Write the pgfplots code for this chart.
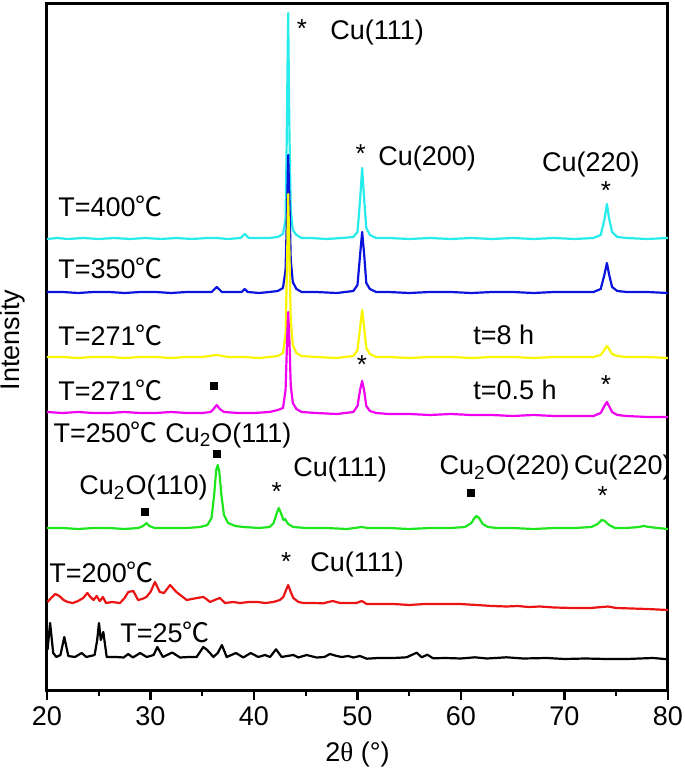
\documentclass[border=0pt]{standalone}
\usepackage{pgfplots}
\pgfplotsset{compat=1.18}
\usepackage{fontspec}
\setmainfont{Liberation Sans}
\newfontfamily\cjk{Noto Sans CJK SC}
\newfontfamily\serif{Liberation Serif}
\newcommand{\dc}{{\cjk ℃}}

\definecolor{ccyan}{RGB}{40,235,235}
\definecolor{cblue}{RGB}{10,20,220}
\definecolor{cyellow}{RGB}{250,245,0}
\definecolor{cmag}{RGB}{240,0,240}
\definecolor{cgreen}{RGB}{30,230,30}
\definecolor{cred}{RGB}{235,20,20}

\begin{document}
\begin{tikzpicture}[
  lab/.style={font=\fontsize{13.5}{15}\selectfont, inner sep=0pt},
  st/.style={font=\fontsize{13}{15}\selectfont, inner sep=0pt, anchor=center},
  sq/.style={fill=black, inner sep=0pt, minimum size=3.8pt},
]
\begin{axis}[
    scale only axis,
    width=310.5pt, height=343pt,
    xmin=20, xmax=80, ymin=0, ymax=686,
    xtick={20,30,...,80},
    minor xtick={25,35,...,75},
    ytick=\empty,
    xtick pos=bottom,
    tick align=outside,
    major tick length=5pt,
    minor tick length=3pt,
    every tick/.style={black, line width=1.2pt},
    axis line style={line width=1.5pt},
    /pgf/number format/assume math mode=true,
    ticklabel style={font=\fontsize{13.5}{15}\selectfont},
    xlabel={2{\serif θ} (°)},
    ylabel={Intensity},
    label style={font=\fontsize{13.5}{15}\selectfont},
    xlabel style={at={(axis description cs:0.5,0)}, anchor=center, yshift=-32.5pt},
    ylabel style={at={(axis description cs:0,0.51)}, anchor=center, yshift=17pt},
    every axis plot/.append style={line width=1.1pt, line join=round},
  ]
% T=400 C
\addplot[ccyan] coordinates {(20,451)(21,452)(22,451)(23.5,452)(25,451)(26.5,452)(28,451)(29.5,452)(31,451)(32.5,452)(34,451)(35.5,452)(36.4,452)(37.5,451)(38.7,452)(39.1,456)(39.5,452)(40.5,452)(41.5,452)(42.3,453)(42.8,456)(43.05,470)(43.15,540)(43.3,677)(43.42,560)(43.55,480)(43.75,460)(44.1,455)(44.6,452)(45.5,452)(47,451)(48.5,452)(49.6,453)(50.0,458)(50.25,490)(50.45,522)(50.65,490)(50.85,462)(51.2,455)(51.8,452)(53,452)(55,451)(57,452)(59,451)(61,452)(63,451)(65,452)(67,451)(69,452)(71,451)(72.8,452)(73.5,455)(73.85,470)(74.1,486)(74.3,472)(74.6,458)(75.1,453)(76,452)(78,451)(80,452)};
% T=350 C
\addplot[cblue] coordinates {(20,398)(21.5,398)(23,397)(24.5,398)(26,398)(27.5,397)(29,398)(30.5,398)(32,397)(33.5,398)(35,398)(35.9,398)(36.4,403)(36.9,398)(38,398)(38.8,398)(39.1,401)(39.4,398)(40.5,397)(41.5,398)(42.3,399)(42.8,402)(43.05,420)(43.2,480)(43.3,535)(43.42,490)(43.55,430)(43.75,408)(44.1,401)(44.6,398)(46,398)(48,397)(49.6,399)(50.0,405)(50.25,435)(50.45,458)(50.65,435)(50.85,407)(51.2,401)(51.8,398)(53,398)(55,397)(57,398)(59,398)(61,397)(63,398)(65,398)(67,397)(69,398)(71,398)(72.8,398)(73.5,401)(73.85,415)(74.1,427)(74.3,416)(74.6,403)(75.1,399)(76,398)(78,398)(80,397)};
% T=271 C, t=8 h
\addplot[cyellow] coordinates {(20,333)(21.5,333)(23,332)(24.5,333)(26,333)(27.5,332)(29,333)(30.5,333)(32,332)(33.5,333)(35,333)(36.4,335)(37.5,333)(39,333)(40.5,332)(41.5,333)(42.3,334)(42.8,337)(43.05,355)(43.2,430)(43.3,496)(43.42,440)(43.55,370)(43.75,345)(44.1,337)(44.6,334)(46,333)(48,332)(49.6,334)(50.0,340)(50.25,362)(50.45,380)(50.65,362)(50.85,342)(51.2,336)(51.8,333)(53,333)(55,332)(57,333)(59,333)(61,332)(63,333)(65,333)(67,332)(69,333)(71,333)(72.8,333)(73.5,335)(73.85,340)(74.1,344)(74.3,341)(74.6,336)(75.1,334)(76,333)(78,333)(80,332)};
% T=271 C, t=0.5 h
\addplot[cmag] coordinates {(20,278)(21.5,277)(23,278)(24.5,277)(26,277)(27.5,278)(29,277)(30.5,277)(32,278)(33.5,277)(35,277)(35.8,278)(36.1,281)(36.4,285)(36.7,281)(37.1,278)(38.5,277)(40,277)(41.5,278)(42.3,280)(42.8,282)(43.05,300)(43.2,350)(43.3,378)(43.42,350)(43.55,305)(43.75,287)(44.1,281)(44.6,278)(46,277)(48,276)(49.6,278)(50.0,284)(50.25,300)(50.45,309)(50.65,299)(50.85,284)(51.2,279)(51.8,277)(53,276)(55,276)(57,275)(59,276)(61,275)(63,275)(65,274)(67,275)(69,274)(71,274)(72.8,274)(73.5,277)(73.85,284)(74.1,288)(74.3,284)(74.6,278)(75.1,275)(76,274)(78,273)(80,273)};
% T=250 C
\addplot[cgreen] coordinates {(20,162)(21.5,162)(23,161)(24.5,162)(26,162)(27.5,161)(28.8,162)(29.3,164)(29.6,167)(29.9,164)(30.4,162)(32,162)(33.5,162)(34.8,163)(35.5,165)(35.9,172)(36.15,195)(36.35,220)(36.5,225)(36.65,218)(36.85,195)(37.1,175)(37.5,167)(38.2,164)(39,163)(40.5,162)(41.5,163)(41.9,167)(42.2,177)(42.4,182)(42.6,177)(42.85,170)(43.0,171)(43.3,166)(43.8,163)(45,162)(47,162)(49,161)(50.4,163)(51,162)(53,162)(55,161)(57,162)(59,162)(60.4,163)(61.0,167)(61.3,172)(61.5,174)(61.75,172)(62.1,166)(62.6,163)(63.5,162)(65,162)(67,161)(69,162)(71,162)(72.6,163)(73.2,166)(73.6,170)(73.9,169)(74.3,165)(74.9,162)(76,162)(77.2,163)(77.6,164)(78.2,163)(79,162)(80,161)};
% T=200 C
\addplot[cred] coordinates {(20.05,88)(20.4,92)(20.8,96)(21.2,94)(21.6,90)(22.0,88)(22.5,87)(23.0,89)(23.5,92)(23.9,97)(24.2,93)(24.5,90)(24.8,94)(25.1,89)(25.4,93)(25.7,87)(26.3,88)(27.05,87)(27.5,92)(27.85,98)(28.34,99)(28.8,90)(29.2,91)(29.6,93)(30.0,98)(30.43,108)(30.9,98)(31.3,97)(31.9,105)(32.5,98)(33.0,94)(33.5,90)(34.0,91)(34.5,92)(35.1,93)(35.4,91)(35.75,88)(36.2,90)(36.7,92)(37.2,87)(38.0,88)(38.65,87)(39.5,88)(40.3,88)(41.1,87)(41.87,88)(42.5,90)(42.83,93)(43.1,100)(43.3,105)(43.55,98)(43.8,92)(44.3,88)(44.77,87)(45.7,87)(46.7,86.7)(47.2,88)(47.6,89)(48.3,87)(48.95,87)(49.9,87)(50.4,89)(50.9,86)(52,86)(53.5,86)(55,85)(56.5,86)(58,86)(59.9,86)(61.5,85)(63,84)(64.4,83.5)(65.5,84)(66.5,83)(67.6,83.5)(69,82.5)(70.8,82)(72.5,82)(74.2,83.5)(75,82)(76.5,81.5)(78,81)(80,80)};
% T=25 C
\addplot[black] coordinates {(20.05,40)(20.3,67)(20.6,37)(20.9,33)(21.3,35)(21.67,53)(22.06,34)(22.7,33)(23.35,37)(23.8,33)(24.6,35)(24.85,50)(25.02,67)(25.2,50)(25.44,58)(25.77,33)(26.7,33)(27.4,32.5)(27.85,36)(28.3,32.5)(29,37)(29.63,33)(30.3,35)(30.66,43)(31.2,33)(32.1,37.5)(32.85,32.5)(33.7,33)(34.46,33)(35.1,43)(35.4,40.7)(35.75,37)(36.07,33)(36.5,37)(36.9,45)(37.36,33)(38.26,37)(38.97,32.5)(39.68,37)(40.42,33)(41.06,35)(41.55,33)(42.13,40.7)(42.67,33)(43.2,34)(43.8,35)(44.28,32.5)(45.09,35)(46.06,32.5)(46.8,33)(47.34,36)(48.0,34)(48.47,33)(49.1,34)(49.6,32.5)(50.24,34)(50.9,31.3)(52,32)(53.5,32)(54.75,32.7)(55.72,37.3)(56.2,32.7)(56.75,35.3)(57.3,31.7)(58.5,32)(60,31.5)(61.35,32.7)(62.5,31.5)(64.4,32.7)(66,31.5)(68.3,32)(70,31)(72,31.5)(74.07,31)(76,31)(78.55,32)(80,30.7)};

% annotations
\node[st] at (axis cs:44.64,661) {*};
\node[lab, anchor=west] at (axis cs:47.34,657) {Cu(111)};
\node[st] at (axis cs:50.3,536) {*};
\node[lab, anchor=west] at (axis cs:51.98,531) {Cu(200)};
\node[lab, anchor=center] at (axis cs:72.55,525) {Cu(220)};
\node[st] at (axis cs:74.0,499) {*};
\node[lab, anchor=west] at (axis cs:21.06,484) {T=400\dc};
\node[lab, anchor=west] at (axis cs:21.06,422) {T=350\dc};
\node[lab, anchor=west] at (axis cs:21.06,355) {T=271\dc};
\node[lab, anchor=west] at (axis cs:61.16,355) {t=8 h};
\node[st] at (axis cs:50.43,325) {*};
\node[lab, anchor=west] at (axis cs:21.06,300) {T=271\dc};
\node[sq] at (axis cs:36.13,304) {};
\node[lab, anchor=west] at (axis cs:61.16,300) {t=0.5 h};
\node[st] at (axis cs:74.0,305) {*};
\node[lab, anchor=west] at (axis cs:20.6,255) {T=250\dc\ Cu\textsubscript{2}O(111)};
\node[sq] at (axis cs:36.4,236) {};
\node[lab, anchor=west] at (axis cs:43.76,220) {Cu(111)};
\node[st] at (axis cs:42.2,198) {*};
\node[lab, anchor=west] at (axis cs:23.1,202) {Cu\textsubscript{2}O(110)};
\node[sq] at (axis cs:29.47,178) {};
\node[lab, anchor=west] at (axis cs:57.9,222) {Cu\textsubscript{2}O(220)};
\node[sq] at (axis cs:60.96,197) {};
\node[lab, anchor=west] at (axis cs:70.9,222) {Cu(220)};
\node[st] at (axis cs:73.7,194) {*};
\node[lab, anchor=west] at (axis cs:20.2,118) {T=200\dc};
\node[st] at (axis cs:43.1,128) {*};
\node[lab, anchor=west] at (axis cs:45.4,125) {Cu(111)};
\node[lab, anchor=west] at (axis cs:27.05,58) {T=25\dc};
\end{axis}
\pgfresetboundingbox
\useasboundingbox ([shift={(-23.5pt,-41pt)}]current axis.south west) rectangle ([shift={(8.5pt,2pt)}]current axis.north east);
\end{tikzpicture}
\end{document}
